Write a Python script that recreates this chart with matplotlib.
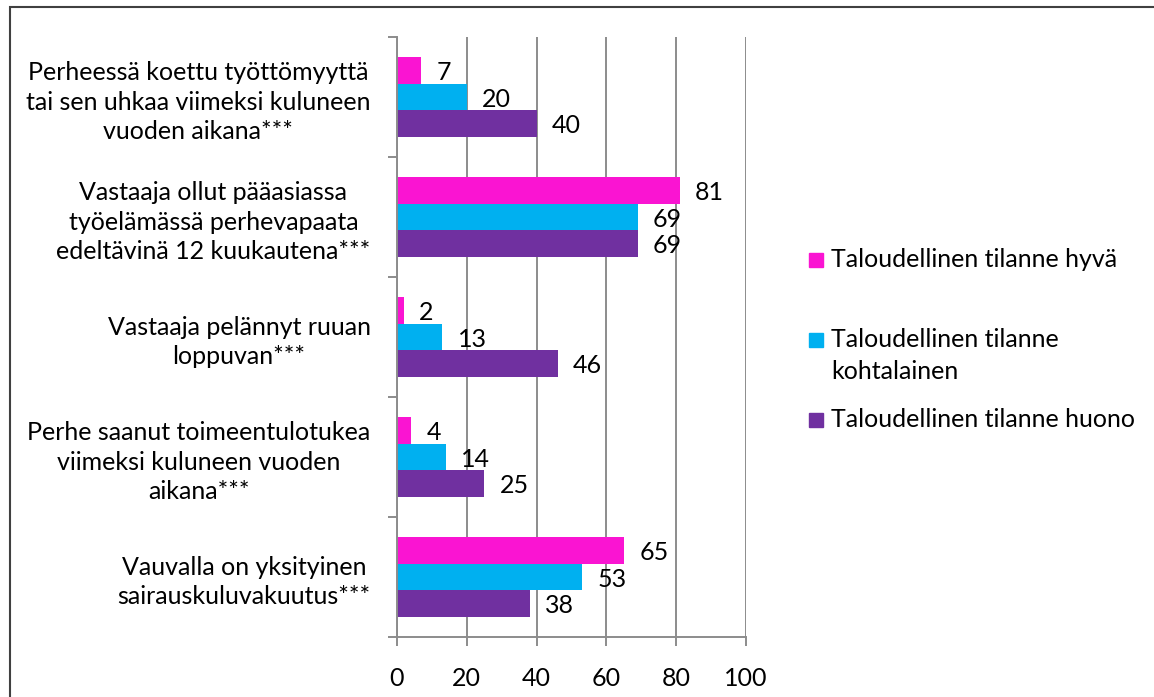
import numpy as np
import matplotlib
matplotlib.use("Agg")
import matplotlib.pyplot as plt
from matplotlib.patches import Rectangle

plt.rcParams["font.family"] = ["Lato", "DejaVu Sans"]

# Data
categories = [
    "Perheessä koettu työttömyyttä\ntai sen uhkaa viimeksi kuluneen\nvuoden aikana***",
    "Vastaaja ollut pääasiassa\ntyöelämässä perhevapaata\nedeltävinä 12 kuukautena***",
    "Vastaaja pelännyt ruuan\nloppuvan***",
    "Perhe saanut toimeentulotukea\nviimeksi kuluneen vuoden\naikana***",
    "Vauvalla on yksityinen\nsairauskuluvakuutus***",
]
series_names = [
    "Taloudellinen tilanne hyvä",
    "Taloudellinen tilanne\nkohtalainen",
    "Taloudellinen tilanne huono",
]
hyva = [7, 81, 2, 4, 65]
kohtalainen = [20, 69, 13, 14, 53]
huono = [40, 69, 46, 25, 38]
colors = ["#FA14D2", "#00B0F0", "#7030A0"]
x_ticks = [0, 20, 40, 60, 80, 100]

FS = 18
grid_col = "#8C8C8C"

fig = plt.figure(figsize=(11.54, 6.97), dpi=100)
ax = fig.add_axes([397 / 1154, 60 / 697, 349 / 1154, 600 / 697])

n = len(categories)
y = np.arange(n)[::-1].astype(float)
h = 80 / 120 / 3  # bar thickness (group fills 2/3 of slot)

for i, (vals, col) in enumerate(zip([hyva, kohtalainen, huono], colors)):
    ypos = y + h - i * h
    ax.barh(ypos, vals, height=h, color=col, zorder=3)
    for yy, v in zip(ypos, vals):
        ax.annotate(str(v), (v, yy), xytext=(11, -1.5), textcoords="offset points",
                    va="center", ha="left", fontsize=FS, zorder=4)

ax.set_xlim(0, 100)
ax.set_ylim(-0.5, n - 0.5)
ax.set_xticks(x_ticks)
ax.set_xticklabels([str(t) for t in x_ticks], fontsize=FS)
ax.set_yticks(y)
ax.set_yticklabels(categories, fontsize=FS, linespacing=1.33)
for lbl in ax.get_yticklabels():
    lbl.set_multialignment("center")
ax.set_yticks(np.arange(n + 1) - 0.5, minor=True)

ax.tick_params(axis="y", which="major", length=0, pad=19)
ax.tick_params(axis="y", which="minor", length=6.5, width=1.4, color=grid_col, direction="out")
ax.tick_params(axis="x", length=6.5, width=1.4, color=grid_col, pad=15)

ax.grid(axis="x", color=grid_col, linewidth=1.4, zorder=0)
for side in ["top", "right"]:
    ax.spines[side].set_visible(False)
for side in ["left", "bottom"]:
    ax.spines[side].set_color(grid_col)
    ax.spines[side].set_linewidth(1.4)
    ax.spines[side].set_zorder(5)

# Legend drawn by hand to keep Excel-like layout
leg_x = 809 / 1154
leg_first_line = [260, 340, 420]
for name, col, yy in zip(series_names, colors, leg_first_line):
    fy = 1 - yy / 697
    fig.patches.append(Rectangle((leg_x, fy - 7 / 697), 14 / 1154, 14 / 697,
                                 transform=fig.transFigure, color=col))
    fig.text(831 / 1154, fy + 12 / 697, name, fontsize=FS, va="top", ha="left",
             linespacing=1.47)

# Outer border
fig.patches.append(Rectangle((10 / 1154, -0.05), 1.2, 1 - 7 / 697 + 0.05,
                             transform=fig.transFigure, fill=False,
                             edgecolor="#404040", linewidth=1.5))

fig.savefig("out.png", dpi=100)
